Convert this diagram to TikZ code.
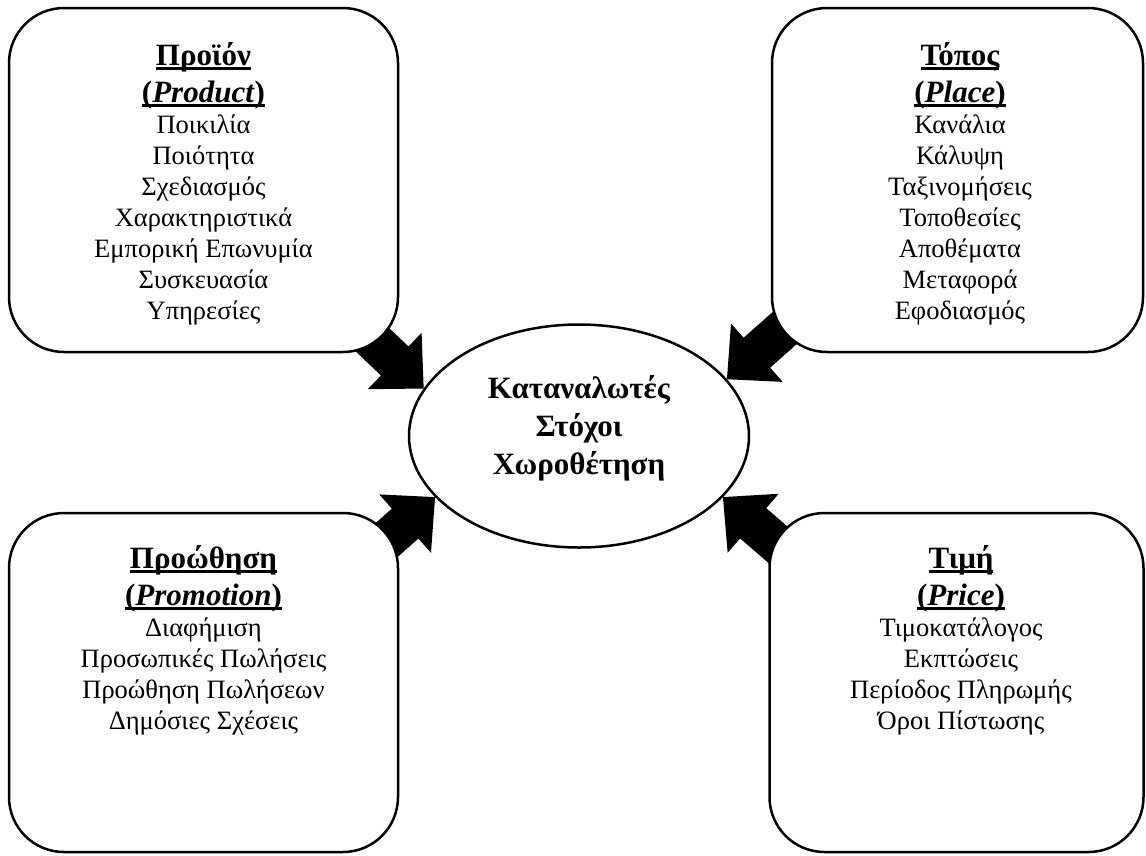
\documentclass[tikz,border=0pt]{standalone}
\usepackage{fontspec}
\setmainfont{Liberation Serif}
\usetikzlibrary{shapes.geometric,calc}
\pgfdeclarelayer{bg}
\pgfsetlayers{bg,main}
% heading line: bold, larger, with a thick underline
\newcommand\ulhead[1]{\setbox0\hbox{#1}\rlap{\rule[-5pt]{\wd0}{2.8pt}}\box0}
\newcommand\hd[1]{{\fontsize{31}{37}\selectfont\bfseries\ulhead{#1}}}
% filled block arrow from #1 (tail) to #2 (tip): shaft 40, head 78 wide and 40 long
\newcommand\blockarrow[2]{%
  \path (#2) -- ($(#2)!40pt!(#1)$) coordinate (headback);
  \fill[black] ($(#1)!20pt!90:(#2)$) -- ($(headback)!20pt!90:(#2)$)
    -- ($(headback)!39pt!90:(#2)$) -- (#2) -- ($(headback)!39pt!-90:(#2)$)
    -- ($(headback)!20pt!-90:(#2)$) -- ($(#1)!20pt!-90:(#2)$) -- cycle;}
\tikzset{
  mixbox/.style={draw, line width=2.5pt, rounded corners=55pt, fill=white, inner sep=0pt},
  mixtext/.style={align=center, inner sep=0pt, anchor=north, font=\fontsize{26.5}{31}\selectfont},
  hub/.style={ellipse, draw, fill=white, line width=2.5pt, inner sep=0pt},
  hubtext/.style={align=center, inner sep=0pt, font=\fontsize{31}{38}\selectfont\bfseries}
}
\begin{document}
\begin{tikzpicture}[x=1pt,y=-1pt]
\useasboundingbox (0,0) rectangle (1146,855);

% the four marketing-mix boxes
\node[mixbox, minimum width=389pt, minimum height=344pt] (product) at (203.5,180) {};
\node[mixbox, minimum width=371pt, minimum height=344pt] (place) at (957.5,180) {};
\node[mixbox, minimum width=389pt, minimum height=339pt] (promo) at (203.5,682.5) {};
\node[mixbox, minimum width=374pt, minimum height=339pt] (price) at (956.5,682.5) {};

% central target
\node[hub, minimum width=340pt, minimum height=223pt] (target) at (579,436) {};
\node[hubtext] (targettext) at (579,428) {Καταναλωτές\\Στόχοι\\Χωροθέτηση};

% box contents
\node[mixtext] (productlist) at (203.5,42) {\hd{Προϊόν}\\[6pt]\hd{(\textit{Product})}\\
  Ποικιλία\\Ποιότητα\\Σχεδιασμός\\Χαρακτηριστικά\\Εμπορική Επωνυμία\\Συσκευασία\\Υπηρεσίες};
\node[mixtext] (placelist) at (960,42) {\hd{Τόπος}\\[6pt]\hd{(\textit{Place})}\\
  Κανάλια\\Κάλυψη\\Ταξινομήσεις\\Τοποθεσίες\\Αποθέματα\\Μεταφορά\\Εφοδιασμός};
\node[mixtext] (promolist) at (203.5,545) {\hd{Προώθηση}\\[6pt]\hd{(\textit{Promotion})}\\
  Διαφήμιση\\Προσωπικές Πωλήσεις\\Προώθηση Πωλήσεων\\Δημόσιες Σχέσεις};
\node[mixtext] (pricelist) at (961,545) {\hd{Τιμή}\\[6pt]\hd{(\textit{Price})}\\
  Τιμοκατάλογος\\Εκπτώσεις\\Περίοδος Πληρωμής\\Όροι Πίστωσης};

% block arrows from each box into the target (tails hidden under the boxes)
\begin{pgfonlayer}{bg}
  \coordinate (productout) at (358,326);
  \coordinate (placeout) at (795.5,318.5);
  \coordinate (promoout) at (368,556.5);
  \coordinate (priceout) at (791,556);
  \coordinate (productin) at (target.163.7);
  \coordinate (placein) at (target.21.3);
  \coordinate (promoin) at (target.203.9);
  \coordinate (pricein) at (target.-23.8);
  \blockarrow{productout}{productin}
  \blockarrow{placeout}{placein}
  \blockarrow{promoout}{promoin}
  \blockarrow{priceout}{pricein}
\end{pgfonlayer}
\end{tikzpicture}
\end{document}
